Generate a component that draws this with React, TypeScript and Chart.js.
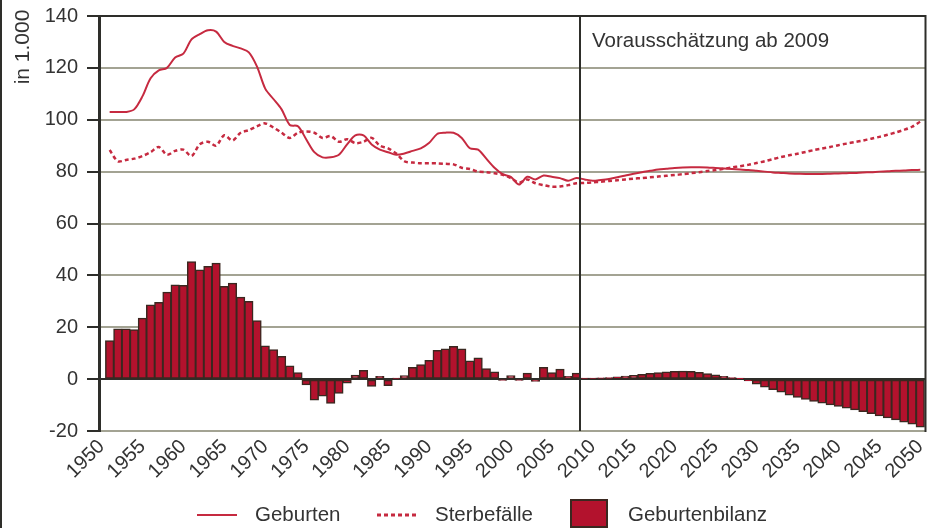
import React, { useEffect, useRef } from 'react';
import { Chart, registerables } from 'chart.js';

Chart.register(...registerables);

// ---------- data ----------
const YEARS = Array.from({ length: 100 }, (_, i) => 1951 + i); // 1951 … 2050

const GEBURTEN = [
  103, 103, 103, 104, 109, 116, 119, 120, 124, 125.5,
  131, 133, 134.5, 134, 130, 128.5, 127.5, 126, 120.5, 112,
  108, 104, 98, 97.5, 92.5, 87.5, 85.5, 85.5, 86.5, 90.5,
  94, 94, 90.5, 88.5, 87.5, 86.5, 87, 88, 89, 91,
  94.5, 95, 95, 93, 89, 88.5, 85, 81.5, 79, 78,
  75, 78, 77, 78.5, 78, 77.5, 76.5, 77.5,
  // Vorausschätzung 2009–2050
  77, 76.5, 76.8, 77.2, 77.8, 78.5, 79.2, 79.8, 80.3, 80.8,
  81.1, 81.4, 81.6, 81.7, 81.7, 81.6, 81.4, 81.2, 81.0, 80.8,
  80.6, 80.3, 80.0, 79.7, 79.5, 79.3, 79.2, 79.1, 79.1, 79.1,
  79.2, 79.3, 79.4, 79.5, 79.7, 79.8, 80.0, 80.1, 80.3, 80.4,
  80.6, 80.7,
];

const STERBEFAELLE = [
  88.3, 84, 84.5, 85, 86, 87.5, 89.5, 86.5, 88, 88.5,
  86, 90.5, 91.5, 90, 94, 92, 95, 96, 97.5, 98.6,
  97, 95, 93, 95, 95.5, 95, 93, 93.7, 91.5, 92.5,
  91, 91.5, 93, 90, 89, 87, 84, 83.5, 83.2, 83.2,
  83.2, 83, 82.8, 81.5, 81, 80, 79.8, 79.4, 78.8, 77.5,
  75.7, 77, 75.5, 74.8, 74.2, 74.3, 74.8, 75.5,
  // Vorausschätzung 2009–2050
  75.6, 75.9, 76.1, 76.4, 76.7, 77.0, 77.3, 77.5, 77.8, 78.1,
  78.4, 78.7, 79.0, 79.4, 79.8, 80.2, 80.6, 81.1, 81.6, 82.1,
  82.6, 83.3, 84.0, 84.8, 85.6, 86.3, 86.9, 87.6, 88.3, 88.9,
  89.5, 90.2, 90.8, 91.4, 92.0, 92.7, 93.4, 94.2, 95.1, 96.1,
  97.3, 99.3,
];

const GEBURTENBILANZ = [
  14.8, 19.3, 19.3, 19, 23.5, 28.6, 29.5, 33.5, 36.3, 36.1,
  45.3, 42.1, 43.4, 44.7, 35.7, 37, 31.6, 29.9, 22.5, 12.8,
  11.3, 8.7, 5.1, 2.5, -2.2, -8, -6.5, -9.3, -5.4, -1.5,
  1.5, 3.3, -2.7, 1, -2.5, 0.3, 1.3, 4.5, 5.5, 7.2,
  11, 11.6, 12.6, 11.6, 7, 8.1, 4, 2.7, -0.3, 1.3,
  -0.3, 2.3, -0.8, 4.5, 2.5, 3.8, 1, 2.3,
  // Vorausschätzung 2009–2050
  0.3, 0.3, 0.4, 0.5, 0.8, 1.1, 1.4, 1.8, 2.2, 2.5,
  2.7, 2.9, 3.0, 2.9, 2.6, 2.1, 1.6, 1.0, 0.5, 0.1,
  -0.6, -1.9, -3.0, -4.0, -5.0, -6.1, -7.0, -7.8, -8.5, -9.2,
  -9.9, -10.5, -11.1, -11.8, -12.5, -13.3, -14.1, -14.9, -15.7, -16.5,
  -17.3, -18.5,
];

const X_TICKS = [1950, 1955, 1960, 1965, 1970, 1975, 1980, 1985, 1990, 1995, 2000,
  2005, 2010, 2015, 2020, 2025, 2030, 2035, 2040, 2045, 2050];
const Y_MIN = -20;
const Y_MAX = 140;
const Y_STEP = 20;
const PROGNOSE_START = 2008.5;
const PROGNOSE_LABEL = 'Vorausschätzung ab 2009';
const Y_TITLE = 'in 1.000';
const LEGEND_LABELS = ['Geburten', 'Sterbefälle', 'Geburtenbilanz'];

// ---------- styles ----------
const RED = '#c62a40';
const BAR_FILL = '#b3122d';
const BAR_BORDER = '#3a2820';
const TEXT = '#333333';
const GRID = '#a3a393';
const DARK = '#2e2e2a';
const FONT = "'Liberation Sans', Arial, Helvetica, sans-serif";

const overlayPlugin = {
  id: 'overlay',
  afterDraw(chart: any) {
    const { ctx, chartArea, scales } = chart;
    const x = scales.x;
    ctx.save();

    // Prognose divider
    const px = Math.round(x.getPixelForValue(PROGNOSE_START));
    ctx.strokeStyle = DARK;
    ctx.lineWidth = 2;
    ctx.beginPath();
    ctx.moveTo(px, chartArea.top);
    ctx.lineTo(px, chartArea.bottom);
    ctx.stroke();

    ctx.fillStyle = TEXT;
    ctx.font = `20.5px ${FONT}`;
    ctx.textAlign = 'left';
    ctx.textBaseline = 'alphabetic';
    ctx.fillText(PROGNOSE_LABEL, px + 12, 47);

    // right plot border
    ctx.beginPath();
    ctx.moveTo(925.5, chartArea.top - 1);
    ctx.lineTo(925.5, chartArea.bottom + 1);
    ctx.stroke();

    // left frame
    ctx.fillStyle = DARK;
    ctx.fillRect(0, 0, 2, chart.height);

    // y title
    ctx.save();
    ctx.translate(23, 47);
    ctx.rotate(-Math.PI / 2);
    ctx.fillStyle = TEXT;
    ctx.font = `21px ${FONT}`;
    ctx.textAlign = 'center';
    ctx.textBaseline = 'middle';
    ctx.fillText(Y_TITLE, 0, 0);
    ctx.restore();

    // legend
    const ly = 515;
    ctx.font = `20.5px ${FONT}`;
    ctx.textBaseline = 'middle';
    ctx.fillStyle = TEXT;
    ctx.textAlign = 'left';

    ctx.strokeStyle = RED;
    ctx.lineWidth = 2;
    ctx.setLineDash([]);
    ctx.beginPath();
    ctx.moveTo(197, ly);
    ctx.lineTo(237, ly);
    ctx.stroke();
    ctx.fillText(LEGEND_LABELS[0], 255, ly);

    ctx.lineWidth = 3;
    ctx.setLineDash([4, 3]);
    ctx.beginPath();
    ctx.moveTo(377, ly);
    ctx.lineTo(418, ly);
    ctx.stroke();
    ctx.setLineDash([]);
    ctx.fillText(LEGEND_LABELS[1], 435, ly);

    ctx.fillStyle = BAR_FILL;
    ctx.fillRect(571, 500, 36, 27);
    ctx.strokeStyle = BAR_BORDER;
    ctx.lineWidth = 2;
    ctx.strokeRect(571, 500, 36, 27);
    ctx.fillStyle = TEXT;
    ctx.fillText(LEGEND_LABELS[2], 628, ly);

    ctx.restore();
  },
};

export default function App() {
  const canvasRef = useRef<HTMLCanvasElement | null>(null);

  useEffect(() => {
    document.body.style.margin = '0';
    const canvas = canvasRef.current;
    if (!canvas) return;
    Chart.defaults.font.family = FONT;

    const chart = new Chart(canvas, {
      type: 'bar',
      data: {
        datasets: [
          {
            type: 'line',
            label: LEGEND_LABELS[0],
            data: YEARS.map((y, i) => ({ x: y, y: GEBURTEN[i] })),
            borderColor: RED,
            borderWidth: 2,
            pointRadius: 0,
            tension: 0.3,
            fill: false,
          } as any,
          {
            type: 'line',
            label: LEGEND_LABELS[1],
            data: YEARS.map((y, i) => ({ x: y, y: STERBEFAELLE[i] })),
            borderColor: RED,
            borderWidth: 2.5,
            borderDash: [4, 3],
            pointRadius: 0,
            tension: 0.3,
            fill: false,
          } as any,
          {
            type: 'bar',
            label: LEGEND_LABELS[2],
            data: YEARS.map((y, i) => ({ x: y, y: GEBURTENBILANZ[i] })),
            backgroundColor: BAR_FILL,
            borderColor: BAR_BORDER,
            borderWidth: 1.5,
            borderSkipped: false,
            barPercentage: 1,
            categoryPercentage: 1,
            inflateAmount: 0.5,
          } as any,
        ],
      },
      options: {
        responsive: false,
        animation: false,
        layout: { padding: { top: 16, left: 0, right: 1, bottom: 0 } },
        plugins: {
          legend: { display: false },
          tooltip: { enabled: false },
        },
        scales: {
          x: {
            type: 'linear',
            min: 1949.7,
            max: 2050.7,
            offset: false,
            afterBuildTicks: (s: any) => {
              s.ticks = X_TICKS.map((v) => ({ value: v }));
            },
            afterFit: (s: any) => {
              s.height = 97;
              s.paddingLeft = 0;
              s.paddingRight = 0;
            },
            ticks: {
              autoSkip: false,
              minRotation: 45,
              maxRotation: 45,
              padding: 4,
              color: TEXT,
              font: { size: 20, family: FONT },
              callback: (v: any) => String(v),
            },
            grid: { display: false, drawTicks: false },
            border: { display: false },
          },
          y: {
            min: Y_MIN,
            max: Y_MAX,
            afterFit: (s: any) => {
              s.width = 99;
              s.paddingTop = 0;
              s.paddingBottom = 0;
            },
            ticks: {
              stepSize: Y_STEP,
              padding: 9,
              color: TEXT,
              font: { size: 20, family: FONT },
            },
            grid: {
              color: (c: any) => (c.tick && (c.tick.value === Y_MAX || c.tick.value === 0) ? DARK : GRID),
              lineWidth: 2,
              tickColor: DARK,
              tickLength: 12,
              tickWidth: 2,
            },
            border: { display: true, color: DARK, width: 3 },
          },
        },
      },
      plugins: [overlayPlugin],
    });

    return () => chart.destroy();
  }, []);

  return (
    <div style={{ width: 927, height: 528 }}>
      <canvas ref={canvasRef} width={927} height={528} style={{ display: 'block' }} />
    </div>
  );
}
